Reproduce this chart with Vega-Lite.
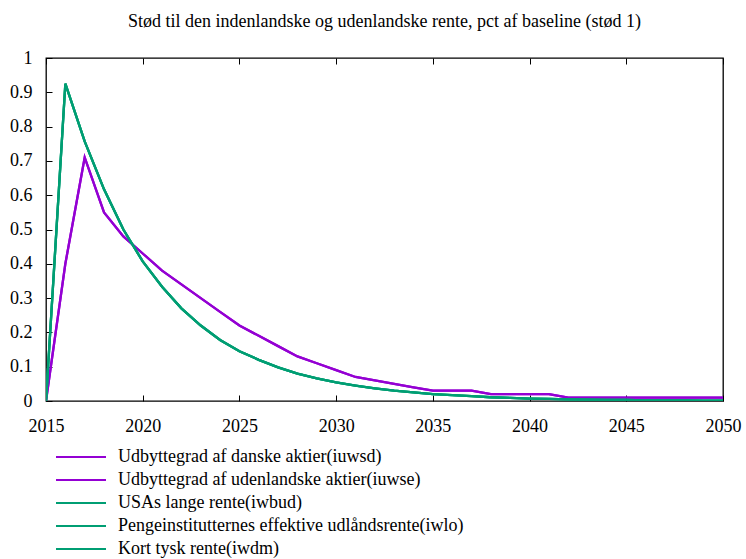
{
  "$schema": "https://vega.github.io/schema/vega-lite/v6.json",
  "autosize": {"type": "none"},
  "width": 677,
  "height": 343,
  "padding": {"left": 46, "top": 58, "right": 23, "bottom": 158},
  "title": {
    "text": "Stød til den indenlandske og udenlandske rente, pct af baseline (stød 1)",
    "font": "Liberation Serif",
    "fontSize": 18,
    "fontWeight": "normal",
    "color": "#000000",
    "anchor": "middle",
    "offset": 18
  },
  "data": {
    "values": [
      {"year": 2015, "iuwsd": 0, "iuwse": 0, "iwbud": 0, "iwlo": 0, "iwdm": 0},
      {"year": 2016, "iuwsd": 0.40, "iuwse": 0.40, "iwbud": 0.925, "iwlo": 0.925, "iwdm": 0.925},
      {"year": 2017, "iuwsd": 0.71, "iuwse": 0.71, "iwbud": 0.757, "iwlo": 0.757, "iwdm": 0.757},
      {"year": 2018, "iuwsd": 0.55, "iuwse": 0.55, "iwbud": 0.617, "iwlo": 0.617, "iwdm": 0.617},
      {"year": 2019, "iuwsd": 0.48, "iuwse": 0.48, "iwbud": 0.50, "iwlo": 0.50, "iwdm": 0.50},
      {"year": 2020, "iuwsd": 0.43, "iuwse": 0.43, "iwbud": 0.407, "iwlo": 0.407, "iwdm": 0.407},
      {"year": 2021, "iuwsd": 0.38, "iuwse": 0.38, "iwbud": 0.333, "iwlo": 0.333, "iwdm": 0.333},
      {"year": 2022, "iuwsd": 0.34, "iuwse": 0.34, "iwbud": 0.27, "iwlo": 0.27, "iwdm": 0.27},
      {"year": 2023, "iuwsd": 0.30, "iuwse": 0.30, "iwbud": 0.22, "iwlo": 0.22, "iwdm": 0.22},
      {"year": 2024, "iuwsd": 0.26, "iuwse": 0.26, "iwbud": 0.178, "iwlo": 0.178, "iwdm": 0.178},
      {"year": 2025, "iuwsd": 0.22, "iuwse": 0.22, "iwbud": 0.145, "iwlo": 0.145, "iwdm": 0.145},
      {"year": 2026, "iuwsd": 0.19, "iuwse": 0.19, "iwbud": 0.12, "iwlo": 0.12, "iwdm": 0.12},
      {"year": 2027, "iuwsd": 0.16, "iuwse": 0.16, "iwbud": 0.098, "iwlo": 0.098, "iwdm": 0.098},
      {"year": 2028, "iuwsd": 0.13, "iuwse": 0.13, "iwbud": 0.08, "iwlo": 0.08, "iwdm": 0.08},
      {"year": 2029, "iuwsd": 0.11, "iuwse": 0.11, "iwbud": 0.066, "iwlo": 0.066, "iwdm": 0.066},
      {"year": 2030, "iuwsd": 0.09, "iuwse": 0.09, "iwbud": 0.054, "iwlo": 0.054, "iwdm": 0.054},
      {"year": 2031, "iuwsd": 0.07, "iuwse": 0.07, "iwbud": 0.045, "iwlo": 0.045, "iwdm": 0.045},
      {"year": 2032, "iuwsd": 0.06, "iuwse": 0.06, "iwbud": 0.037, "iwlo": 0.037, "iwdm": 0.037},
      {"year": 2033, "iuwsd": 0.05, "iuwse": 0.05, "iwbud": 0.03, "iwlo": 0.03, "iwdm": 0.03},
      {"year": 2034, "iuwsd": 0.04, "iuwse": 0.04, "iwbud": 0.025, "iwlo": 0.025, "iwdm": 0.025},
      {"year": 2035, "iuwsd": 0.03, "iuwse": 0.03, "iwbud": 0.02, "iwlo": 0.02, "iwdm": 0.02},
      {"year": 2036, "iuwsd": 0.03, "iuwse": 0.03, "iwbud": 0.017, "iwlo": 0.017, "iwdm": 0.017},
      {"year": 2037, "iuwsd": 0.03, "iuwse": 0.03, "iwbud": 0.014, "iwlo": 0.014, "iwdm": 0.014},
      {"year": 2038, "iuwsd": 0.02, "iuwse": 0.02, "iwbud": 0.011, "iwlo": 0.011, "iwdm": 0.011},
      {"year": 2039, "iuwsd": 0.02, "iuwse": 0.02, "iwbud": 0.009, "iwlo": 0.009, "iwdm": 0.009},
      {"year": 2040, "iuwsd": 0.02, "iuwse": 0.02, "iwbud": 0.007, "iwlo": 0.007, "iwdm": 0.007},
      {"year": 2041, "iuwsd": 0.02, "iuwse": 0.02, "iwbud": 0.006, "iwlo": 0.006, "iwdm": 0.006},
      {"year": 2042, "iuwsd": 0.01, "iuwse": 0.01, "iwbud": 0.005, "iwlo": 0.005, "iwdm": 0.005},
      {"year": 2043, "iuwsd": 0.01, "iuwse": 0.01, "iwbud": 0.004, "iwlo": 0.004, "iwdm": 0.004},
      {"year": 2044, "iuwsd": 0.01, "iuwse": 0.01, "iwbud": 0.003, "iwlo": 0.003, "iwdm": 0.003},
      {"year": 2045, "iuwsd": 0.01, "iuwse": 0.01, "iwbud": 0.003, "iwlo": 0.003, "iwdm": 0.003},
      {"year": 2046, "iuwsd": 0.01, "iuwse": 0.01, "iwbud": 0.002, "iwlo": 0.002, "iwdm": 0.002},
      {"year": 2047, "iuwsd": 0.01, "iuwse": 0.01, "iwbud": 0.002, "iwlo": 0.002, "iwdm": 0.002},
      {"year": 2048, "iuwsd": 0.01, "iuwse": 0.01, "iwbud": 0.002, "iwlo": 0.002, "iwdm": 0.002},
      {"year": 2049, "iuwsd": 0.01, "iuwse": 0.01, "iwbud": 0.001, "iwlo": 0.001, "iwdm": 0.001},
      {"year": 2050, "iuwsd": 0.01, "iuwse": 0.01, "iwbud": 0.001, "iwlo": 0.001, "iwdm": 0.001}
    ]
  },
  "transform": [
    {"fold": ["iuwsd", "iuwse", "iwbud", "iwlo", "iwdm"], "as": ["serie", "value"]}
  ],
  "layer": [
    {
      "mark": {"type": "line", "strokeWidth": 2.3, "clip": true},
      "encoding": {
        "x": {
          "field": "year", "type": "quantitative",
          "scale": {"domain": [2015, 2050], "nice": false, "zero": false},
          "axis": {
            "orient": "bottom", "title": null, "values": [2015, 2020, 2025, 2030, 2035, 2040, 2045, 2050],
            "format": "d", "grid": false, "domain": false, "tickSize": -6, "tickColor": "#000000", "tickWidth": 1,
            "labelPadding": 22, "labelFont": "Liberation Serif", "labelFontSize": 18, "labelColor": "#000000",
            "labelFlush": false, "labelOverlap": false
          }
        },
        "y": {
          "field": "value", "type": "quantitative",
          "scale": {"domain": [0, 1], "nice": false},
          "axis": {
            "title": null, "values": [0, 0.1, 0.2, 0.3, 0.4, 0.5, 0.6, 0.7, 0.8, 0.9, 1],
            "format": "~g", "grid": false, "domain": false, "tickSize": -6, "tickColor": "#000000", "tickWidth": 1,
            "labelPadding": 20, "labelFont": "Liberation Serif", "labelFontSize": 18, "labelColor": "#000000",
            "labelFlush": false, "labelOverlap": false
          }
        },
        "color": {
          "field": "serie", "type": "nominal",
          "scale": {
            "domain": ["iuwsd", "iuwse", "iwbud", "iwlo", "iwdm"],
            "range": ["#9400D3", "#9400D3", "#009E73", "#009E73", "#009E73"]
          },
          "legend": {
            "title": null,
            "orient": "none",
            "legendX": 26,
            "legendY": 390,
            "direction": "vertical",
            "symbolType": "M-5,0L5,0",
            "symbolSize": 100,
            "symbolStrokeWidth": 2,
            "labelFont": "Liberation Serif",
            "labelFontSize": 18,
            "labelColor": "#000000",
            "labelOffset": 28,
            "rowPadding": 5,
            "padding": 0,
            "labelLimit": 600,
            "labelExpr": "{'iuwsd': 'Udbyttegrad af danske aktier(iuwsd)', 'iuwse': 'Udbyttegrad af udenlandske aktier(iuwse)', 'iwbud': 'USAs lange rente(iwbud)', 'iwlo': 'Pengeinstitutternes effektive udlåndsrente(iwlo)', 'iwdm': 'Kort tysk rente(iwdm)'}[datum.value]"
          }
        }
      }
    },
    {
      "mark": {"type": "rule", "opacity": 0},
      "encoding": {
        "x": {
          "field": "year", "type": "quantitative",
          "axis": {
            "orient": "top", "title": null, "values": [2015, 2020, 2025, 2030, 2035, 2040, 2045, 2050],
            "labels": false, "grid": false, "domain": false, "tickSize": -6, "tickColor": "#000000", "tickWidth": 1
          }
        }
      }
    }
  ],
  "resolve": {"axis": {"x": "independent"}},
  "config": {
    "view": {"stroke": "#000000", "strokeWidth": 1.3},
    "font": "Liberation Serif"
  }
}
